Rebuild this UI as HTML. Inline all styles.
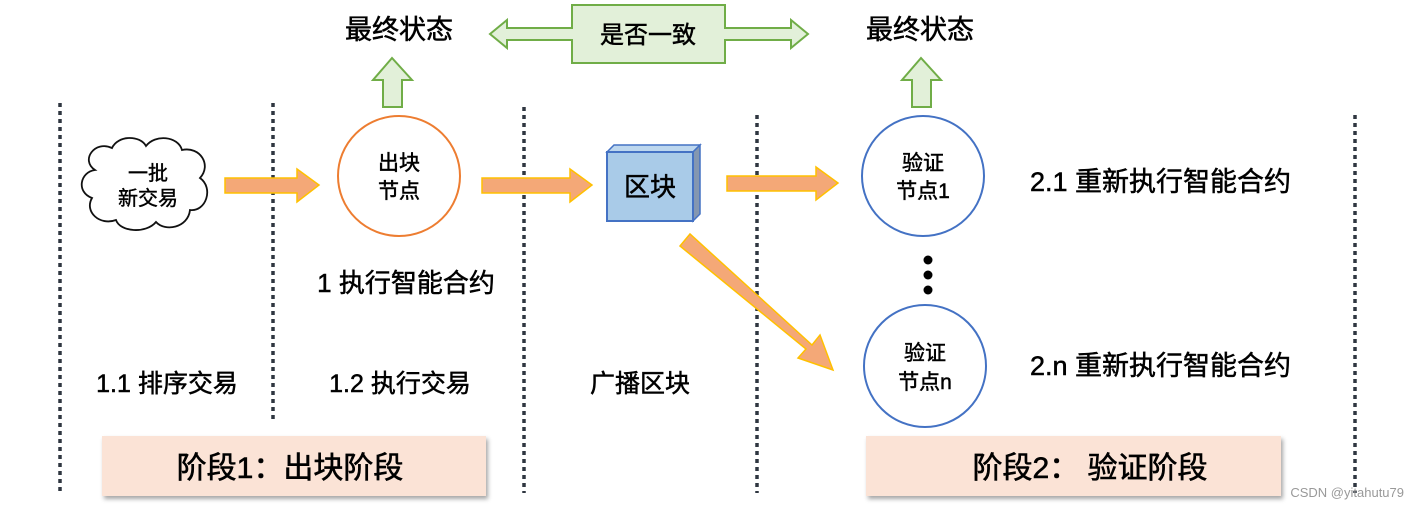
<!DOCTYPE html>
<html><head><meta charset="utf-8"><style>
html,body{margin:0;padding:0;background:#fff;}
svg{display:block;font-family:"Liberation Sans","Noto Sans CJK SC",sans-serif;}
</style></head><body>
<svg width="1415" height="509" viewBox="0 0 1415 509" xmlns="http://www.w3.org/2000/svg">
<defs>
<filter id="sh" x="-5%" y="-10%" width="115%" height="130%"><feDropShadow dx="2" dy="3" stdDeviation="2" flood-color="#000" flood-opacity="0.35"/></filter>
</defs>
<g stroke="#2f3640" stroke-width="3.5" stroke-dasharray="4 4">
<line x1="60" y1="103" x2="60" y2="493"/>
<line x1="273" y1="103" x2="273" y2="420"/>
<line x1="524" y1="107" x2="524" y2="493"/>
<line x1="757" y1="115" x2="757" y2="493"/>
<line x1="1355" y1="115" x2="1355" y2="493"/>
</g>
<path d="M95,170 C80,160 95,140 112,148 C118,135 140,135 146,146 C155,134 178,136 182,150 C200,146 212,165 200,178 C214,188 206,212 190,210 C188,228 165,232 156,222 C146,234 120,232 116,220 C100,226 84,212 92,198 C76,192 80,172 95,170 Z" fill="#fff" stroke="#111" stroke-width="1.8"/>
<g stroke="#000" stroke-width="0.4">
<text x="148" y="180" font-size="20" text-anchor="middle">一批</text>
<text x="148" y="205" font-size="20" text-anchor="middle">新交易</text>
</g>
<g fill="#f4a877" stroke="#ffc000" stroke-width="1.5">
<path d="M225,178 L297,178 L297,169 L319,185 L297,202 L297,193 L225,193 Z"/>
<path d="M482,178 L570,178 L570,169 L592,185 L570,202 L570,193 L482,193 Z"/>
<path d="M727,176 L816,176 L816,167 L838,183 L816,200 L816,191 L727,191 Z"/>
<path d="M680,246 L690,234 L812,345 L820,335 L833,370 L798,358 L806,349 Z"/>
</g>
<ellipse cx="399" cy="176" rx="61" ry="60" fill="#fff" stroke="#ed7d31" stroke-width="2"/>
<g fill="#e2f0d9" stroke="#70ad47" stroke-width="2">
<path d="M383,107 L383,80 L373,80 L392,58 L412,80 L402,80 L402,107 Z"/>
<path d="M912,107 L912,80 L902,80 L921,58 L941,80 L931,80 L931,107 Z"/>
<path d="M490,34 L507,20 L507,28 L572,28 L572,5 L725,5 L725,28 L791,28 L791,20 L808,34 L791,48 L791,40 L725,40 L725,63 L572,63 L572,40 L507,40 L507,48 Z"/>
</g>
<path d="M607,152 L614,145 L700,145 L693,152 Z" fill="#bdd7ee" stroke="#4472c4" stroke-width="1.5"/>
<path d="M693,152 L700,145 L700,214 L693,221 Z" fill="#8497b0" stroke="#4472c4" stroke-width="1.5"/>
<rect x="607" y="152" width="86" height="69" fill="#a9cbe8" stroke="#4472c4" stroke-width="2"/>
<ellipse cx="923" cy="176" rx="61" ry="60" fill="#fff" stroke="#4472c4" stroke-width="2"/>
<ellipse cx="925" cy="366" rx="61" ry="61" fill="#fff" stroke="#4472c4" stroke-width="2"/>
<circle cx="928" cy="260" r="4.5" fill="#000"/>
<circle cx="928" cy="275" r="4.5" fill="#000"/>
<circle cx="928" cy="290" r="4.5" fill="#000"/>
<g stroke="#000" stroke-width="0.5">
<text x="399" y="170" font-size="21" text-anchor="middle">出块</text>
<text x="399" y="198" font-size="21" text-anchor="middle">节点</text>
<text x="648" y="43" font-size="24" text-anchor="middle">是否一致</text>
<text x="399" y="39" font-size="27" text-anchor="middle">最终状态</text>
<text x="920" y="39" font-size="27" text-anchor="middle">最终状态</text>
<text x="650" y="196" font-size="26" text-anchor="middle">区块</text>
<text x="923" y="170" font-size="21" text-anchor="middle">验证</text>
<text x="923" y="198" font-size="21" text-anchor="middle">节点1</text>
<text x="925" y="360" font-size="21" text-anchor="middle">验证</text>
<text x="925" y="389" font-size="21" text-anchor="middle">节点n</text>
<text x="1030" y="191" font-size="27">2.1 重新执行智能合约</text>
<text x="1030" y="375" font-size="27">2.n 重新执行智能合约</text>
<text x="406" y="292" font-size="26" text-anchor="middle">1 执行智能合约</text>
<text x="167" y="392" font-size="25" text-anchor="middle">1.1 排序交易</text>
<text x="400" y="392" font-size="25" text-anchor="middle">1.2 执行交易</text>
<text x="640" y="392" font-size="25" text-anchor="middle">广播区块</text>
</g>
<rect x="102" y="436" width="384" height="60" fill="#fbe3d6" filter="url(#sh)"/>
<rect x="866" y="436" width="415" height="60" fill="#fbe3d6" filter="url(#sh)"/>
<g stroke="#000" stroke-width="0.6">
<text x="290" y="478" font-size="30" text-anchor="middle">阶段1：出块阶段</text>
<text x="1090" y="478" font-size="30" text-anchor="middle">阶段2： 验证阶段</text>
</g>
<text x="1404" y="497" font-size="13" fill="#999" text-anchor="end">CSDN @yitahutu79</text>
</svg>
</body></html>
